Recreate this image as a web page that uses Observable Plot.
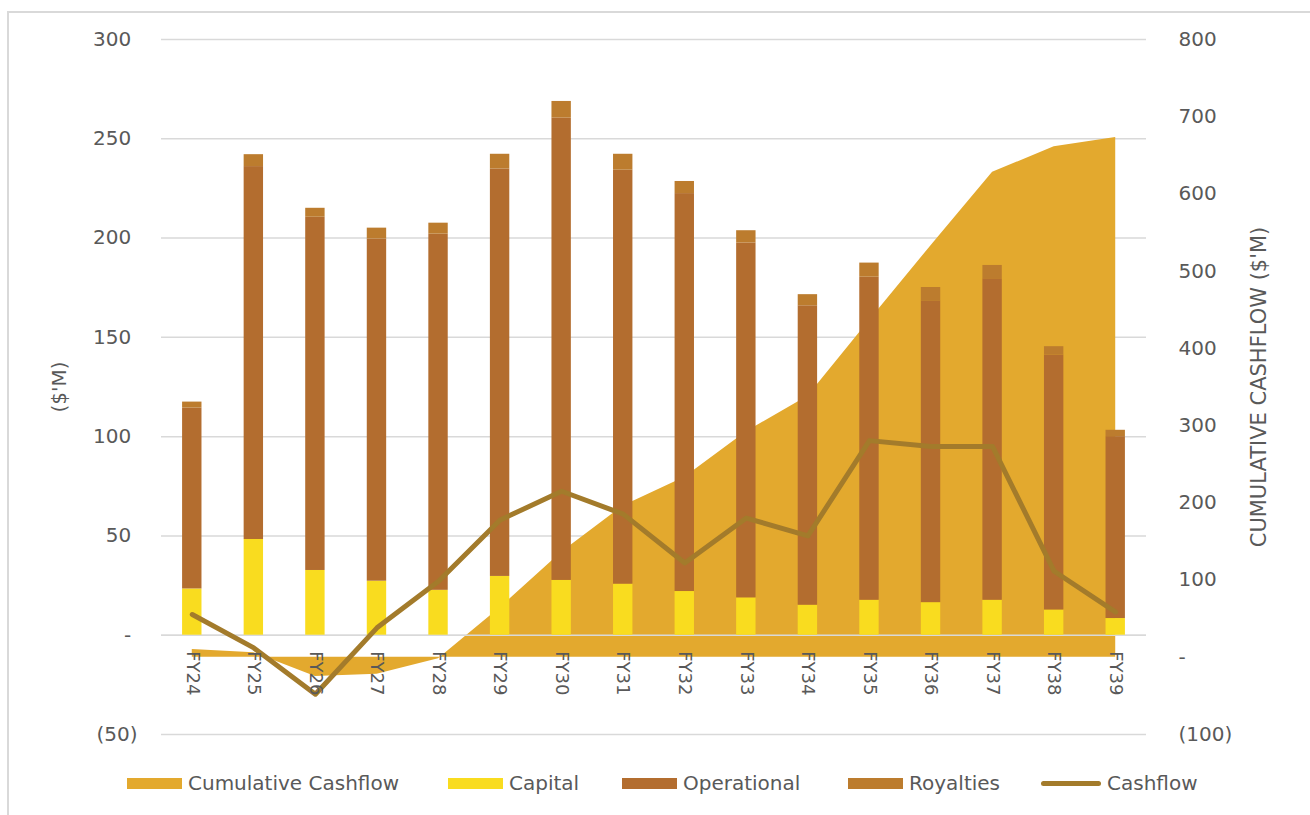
<!DOCTYPE html>
<html>
<head>
<meta charset="utf-8">
<script src="https://cdn.jsdelivr.net/npm/d3@7"></script>
<script src="https://cdn.jsdelivr.net/npm/@observablehq/plot@0.6"></script>
<style>
  body { margin: 0; background: #fff; width: 1310px; height: 815px; overflow: hidden; position: relative; font-family: "DejaVu Sans", sans-serif; }
  #frame { position: absolute; left: 7px; top: 11px; right: -5px; bottom: -5px; border-left: 2px solid #d9d9d9; border-top: 2px solid #d9d9d9; pointer-events: none; }
  #chart { position: absolute; left: 0; top: 0; }
  #legend { position: absolute; left: 0; top: 760px; width: 1310px; height: 55px; }
  .item { position: absolute; top: 0; height: 46px; display: flex; align-items: center; gap: 6px; color: #595959; font-size: 20px; white-space: nowrap; }
  .sw { width: 55px; height: 11px; }
  .ln { width: 60px; height: 5px; border-radius: 3px; }
</style>
</head>
<body>
<div id="frame"></div>
<div id="chart"></div>
<div id="legend"></div>
<script>
// ---- Data ----
const years = ["FY24","FY25","FY26","FY27","FY28","FY29","FY30","FY31","FY32","FY33","FY34","FY35","FY36","FY37","FY38","FY39"];
const capital     = [23.3, 48.2, 32.6, 27.2, 22.6, 29.6, 27.6, 25.7, 22.0, 18.8, 15.1, 17.6, 16.4, 17.6, 12.7, 8.4];
const operational = [91.1, 187.8, 177.9, 172.3, 179.4, 205.2, 232.8, 208.5, 200.4, 178.7, 150.8, 162.7, 152.0, 161.9, 128.4, 91.6];
const royalties   = [3.0, 6.0, 4.5, 5.5, 5.5, 7.4, 8.4, 8.0, 6.1, 6.2, 5.6, 7.1, 6.7, 6.7, 4.2, 3.2];
const cashflow    = [10.4, -6.4, -29.7, 3.7, 27.2, 58, 72.5, 61, 36.4, 59, 50, 98, 95, 95, 32.2, 11.6];
const cumulative  = [10, 6, -25, -22, -2, 64, 136, 196, 233, 292, 338, 436, 533, 628, 661, 673];

const leftTicks  = [-50, 0, 50, 100, 150, 200, 250, 300];
const rightTicks = [-100, 0, 100, 200, 300, 400, 500, 600, 700, 800];

const seriesNames  = ["Capital", "Operational", "Royalties"];
const seriesColors = ["#F9DC1F", "#B36D2F", "#BC7C2E"];
const areaColor = "#E3A92E";
const lineColor = "#A37B2B";

// ---- Dual-axis mapping ----
const L = [-50, 300], R = [-100, 800];
const toLeft = v => L[0] + (v - R[0]) * (L[1] - L[0]) / (R[1] - R[0]);
const fromLeft = y => R[0] + (y - L[0]) * (R[1] - R[0]) / (L[1] - L[0]);

const fmtLeft = v => v < 0 ? `(${-v})` : v === 0 ? "-\u2008" : `${v}\u2008`;
const fmtRight = v => v < 0 ? `(${-v})` : v === 0 ? "-" : `${v}`;

const stacked = [];
years.forEach((y, i) => {
  stacked.push({year: y, series: "Capital", value: capital[i]});
  stacked.push({year: y, series: "Operational", value: operational[i]});
  stacked.push({year: y, series: "Royalties", value: royalties[i]});
});
const rows = years.map((y, i) => ({year: y, cash: cashflow[i], cum: cumulative[i]}));

const chart = Plot.plot({
  width: 1310,
  height: 760,
  marginLeft: 161,
  marginRight: 164,
  marginTop: 39,
  marginBottom: 26,
  x: {type: "band", domain: years, paddingInner: 0.685, paddingOuter: 0.3425, round: false, axis: null},
  y: {domain: L, axis: null},
  color: {domain: seriesNames, range: seriesColors},
  style: {fontFamily: "DejaVu Sans, sans-serif", color: "#595959", background: "transparent", overflow: "visible"},
  marks: [
    Plot.ruleY(leftTicks, {stroke: "#d9d9d9", strokeWidth: 1.5}),
    Plot.area(rows, {x1: "year", y1: () => toLeft(0), y2: d => toLeft(d.cum), fill: areaColor}),
    Plot.ruleY([0], {stroke: "#d9d9d9", strokeWidth: 1.5}),
    Plot.barY(stacked, {x: "year", y: "value", fill: "series", order: seriesNames}),
    Plot.line(rows, {x: "year", y: "cash", stroke: lineColor, strokeWidth: 5, strokeLinecap: "round", strokeLinejoin: "round"}),
    Plot.axisY(leftTicks, {anchor: "left", tickSize: 0, tickPadding: 24, tickFormat: fmtLeft, fontSize: 20}),
    Plot.axisY(rightTicks.map(toLeft), {anchor: "right", tickSize: 0, tickPadding: 32, tickFormat: d => fmtRight(Math.round(fromLeft(d))), fontSize: 20}),
    Plot.text(years, {x: d => d, y: () => 0, text: d => d, rotate: 90, textAnchor: "start", lineAnchor: "middle", dy: 16, fontSize: 18, fill: "#595959"}),
    Plot.text(["($'M)"], {frameAnchor: "left", text: d => d, rotate: -90, textAnchor: "middle", lineAnchor: "middle", dx: -102, fontSize: 20, fill: "#595959"}),
    Plot.text(["CUMULATIVE CASHFLOW ($'M)"], {frameAnchor: "right", text: d => d, rotate: -90, textAnchor: "middle", lineAnchor: "middle", dx: 113, fontSize: 21, fill: "#595959"})
  ]
});
document.getElementById("chart").appendChild(chart);

// ---- Legend ----
const legendItems = [
  {name: "Cumulative Cashflow", color: areaColor, kind: "sw", left: 127},
  {name: "Capital", color: seriesColors[0], kind: "sw", left: 448},
  {name: "Operational", color: seriesColors[1], kind: "sw", left: 622},
  {name: "Royalties", color: seriesColors[2], kind: "sw", left: 848},
  {name: "Cashflow", color: lineColor, kind: "ln", left: 1041}
];
const legend = document.getElementById("legend");
legendItems.forEach(it => {
  const d = document.createElement("div");
  d.className = "item";
  d.style.left = it.left + "px";
  const s = document.createElement("span");
  s.className = it.kind;
  s.style.background = it.color;
  const t = document.createElement("span");
  t.textContent = it.name;
  d.appendChild(s); d.appendChild(t);
  legend.appendChild(d);
});
</script>
</body>
</html>
